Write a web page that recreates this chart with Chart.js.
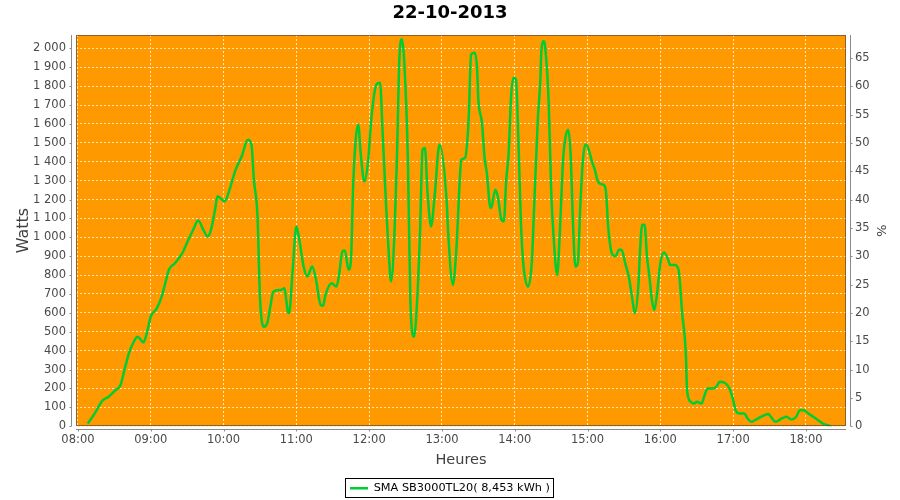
<!DOCTYPE html>
<html><head><meta charset="utf-8">
<style>html,body{margin:0;padding:0;background:#fff}#wrap{width:900px;height:500px}</style>
<script src="https://cdn.jsdelivr.net/npm/chart.js@4/dist/chart.umd.min.js"></script>
</head><body><div id="wrap"><canvas id="c" width="900" height="500"></canvas></div>
<script>
const chartTitle = '22-10-2013';
const seriesName = 'SMA SB3000TL20( 8,453 kWh )';
const xAxisTitle = 'Heures';
const yAxisTitle = 'Watts';
const y2AxisTitle = '%';
const hourTicks = ['08:00','09:00','10:00','11:00','12:00','13:00','14:00','15:00','16:00','17:00','18:00'];
const inverterMaxWatts = 3000;

const times = [
'08:08','08:14','08:20','08:25','08:31','08:35','08:39','08:42','08:46','08:49','08:54','08:57',
'09:00','09:05','09:09','09:12','09:15','09:20','09:26','09:31','09:35','09:39','09:44','09:47','09:50','09:53','09:55',
'10:01','10:04','10:10','10:15','10:20','10:23','10:25','10:28','10:30','10:33','10:36','10:39','10:41','10:47','10:50','10:51','10:53','10:54','10:57',
'11:00','11:02','11:06','11:09','11:13','11:16','11:20','11:22','11:24','11:29','11:33','11:35','11:38','11:40','11:43','11:45','11:47','11:51','11:53','11:56','11:59',
'12:02','12:06','12:09','12:11','12:14','12:16','12:18','12:21','12:23','12:25','12:27','12:29','12:32','12:34','12:37','12:40','12:42','12:44','12:46','12:48','12:51','12:54','12:58',
'13:04','13:05','13:09','13:12','13:15','13:16','13:19','13:22','13:24','13:27','13:29','13:30','13:33','13:35','13:37','13:40','13:41','13:44','13:46','13:49','13:51','13:53','13:55','13:57','13:59',
'14:01','14:03','14:05','14:07','14:11','14:14','14:16','14:19','14:21','14:22','14:24','14:25','14:28','14:30','14:32','14:35','14:37','14:40','14:42','14:44','14:46','14:48','14:50','14:52','14:54','14:56','14:58',
'15:00','15:04','15:06','15:08','15:10','15:13','15:15','15:17','15:20','15:23','15:26','15:28','15:31','15:34','15:37','15:39','15:42','15:43','15:45','15:47','15:49','15:51','15:53','15:55','15:57',
'16:00','16:03','16:06','16:08','16:12','16:15','16:18','16:21','16:22','16:25','16:28','16:30','16:34','16:36','16:39','16:43','16:46','16:49','16:53','16:57',
'17:00','17:02','17:05','17:09','17:12','17:15','17:18','17:23','17:29','17:31','17:35','17:40','17:44','17:48','17:52','17:55','17:58',
'18:02','18:06','18:10','18:14','18:18','18:21'
];
const watts = [
14,69,134,155,191,217,315,385,447,474,444,500,
580,624,686,757,828,863,916,987,1040,1089,1031,1004,1049,1146,1217,
1190,1234,1358,1429,1517,1491,1305,1110,686,527,545,651,712,721,730,704,606,598,828,
1057,1004,845,792,845,783,642,637,695,757,739,792,925,930,828,881,1305,1597,1447,1296,1394,
1641,1809,1818,1570,1163,934,766,1040,1447,1959,2048,1924,1394,651,474,721,1040,1464,1473,1252,1057,1220,1491,
1181,1040,748,951,1341,1411,1420,1623,1968,1977,1889,1729,1606,1429,1341,1155,1163,1252,1217,1093,1084,1305,1447,1747,1845,
1836,1517,1093,863,739,863,1163,1623,1818,1995,2039,2012,1712,1252,1004,801,1004,1429,1535,1570,1447,1075,845,863,1163,1394,1491,
1482,1394,1358,1305,1284,1279,1252,1057,916,900,934,934,863,792,668,598,757,898,1066,1066,898,792,668,615,686,
863,919,890,854,854,828,598,385,191,129,120,129,120,155,200,200,208,235,230,200,
138,85,67,67,41,23,32,50,64,50,23,41,50,35,50,85,85,
67,50,32,14,5,0
];

const toMin = s => parseInt(s.slice(0,2),10)*60 + parseInt(s.slice(3),10);
const fmtHM = v => { const h = Math.floor(v/60), m = Math.round(v%60); return String(h).padStart(2,'0')+':'+String(m).padStart(2,'0'); };
const fmtThousands = v => String(v).replace(/\B(?=(\d{3})+(?!\d))/g, ' ');

const X_MIN = 478.4, X_MAX = 1113;
const Y_MAX = 2071;

Chart.defaults.font.family = "'DejaVu Sans', sans-serif";
Chart.defaults.color = '#404040';

const framePlugin = {
  id: 'frame',
  beforeDraw(chart) {
    const {ctx, chartArea: a} = chart;
    ctx.save();
    ctx.fillStyle = '#ffffff';
    ctx.fillRect(0, 0, chart.width, chart.height);
    ctx.fillStyle = '#ff9900';
    ctx.fillRect(a.left, a.top, a.right - a.left, a.bottom - a.top);
    ctx.restore();
  },
  afterDraw(chart) {
    const {ctx, chartArea: a, scales} = chart;
    ctx.save();
    ctx.lineWidth = 1;
    ctx.strokeStyle = 'rgba(120,80,40,0.8)';
    ctx.strokeRect(Math.round(a.left) + 0.5, Math.round(a.top) + 0.5, Math.round(a.right - a.left) - 1, Math.round(a.bottom - a.top) - 1);
    ctx.strokeStyle = '#8a8a8a';
    ctx.beginPath();
    const lx = Math.round(a.left) - 4.5;
    ctx.moveTo(lx, a.top); ctx.lineTo(lx, a.bottom);
    scales.y.ticks.forEach(t => { const p = Math.round(scales.y.getPixelForValue(t.value)) + 0.5; ctx.moveTo(lx, p); ctx.lineTo(lx - 2, p); });
    const rx = Math.round(a.right) + 4.5;
    ctx.moveTo(rx, a.top); ctx.lineTo(rx, a.bottom);
    scales.y2.ticks.forEach(t => { const p = Math.round(scales.y2.getPixelForValue(t.value)) + 0.5; ctx.moveTo(rx, p); ctx.lineTo(rx + 2, p); });
    const by = Math.round(a.bottom) + 3.5;
    ctx.moveTo(a.left, by); ctx.lineTo(a.right, by);
    scales.x.ticks.forEach(t => { const p = Math.round(scales.x.getPixelForValue(t.value)) + 0.5; ctx.moveTo(p, by); ctx.lineTo(p, by + 2); });
    ctx.stroke();
    const lg = chart.legend;
    if (lg && lg.legendHitBoxes && lg.legendHitBoxes.length) {
      const hb = lg.legendHitBoxes[0];
      const cy = hb.top + hb.height / 2;
      ctx.strokeStyle = '#000000';
      ctx.strokeRect(Math.round(hb.left) - 4.5, Math.round(cy) - 9.5, Math.round(hb.width) + 8, 19);
    }
    ctx.restore();
  }
};

const gridCommon = { color: 'rgba(255,255,255,0.75)', lineWidth: 1, tickColor: 'rgba(0,0,0,0)', tickLength: 4 };

new Chart(document.getElementById('c'), {
  type: 'line',
  data: {
    datasets: [{
      label: seriesName,
      data: times.map((t, i) => ({x: toMin(t), y: watts[i]})),
      borderColor: '#00cc33',
      backgroundColor: '#00cc33',
      borderWidth: 2.5,
      pointRadius: 0,
      cubicInterpolationMode: 'monotone',
      fill: false,
      xAxisID: 'x',
      yAxisID: 'y'
    }]
  },
  options: {
    responsive: false,
    animation: false,
    devicePixelRatio: 1,
    layout: { padding: { left: 0, right: 0, top: 0, bottom: -4 } },
    plugins: {
      title: {
        display: true, text: chartTitle, color: '#000000',
        font: { size: 18, weight: 'bold' },
        padding: { top: 3, bottom: 10.4 }
      },
      legend: {
        display: true, position: 'bottom',
        labels: {
          color: '#000000', font: { size: 11.3 }, boxWidth: 18, boxHeight: 2.5, padding: 6,
          generateLabels(chart) {
            return chart.data.datasets.map((d, i) => ({
              text: d.label, fillStyle: d.borderColor, strokeStyle: d.borderColor,
              lineWidth: 0, hidden: false, datasetIndex: i, fontColor: '#000000'
            }));
          }
        }
      },
      tooltip: { enabled: false }
    },
    scales: {
      x: {
        type: 'linear', position: 'bottom', min: X_MIN, max: X_MAX,
        afterBuildTicks(scale) { scale.ticks = hourTicks.map(t => ({value: toMin(t)})); },
        afterFit(scale) { const lh = scale.chart.legend ? scale.chart.legend.height : 0; scale.height = 504 - 426.2 - lh; },
        ticks: { autoSkip: false, maxRotation: 0, minRotation: 0, padding: 3, font: { size: 11.5 }, color: '#4a4a4a', callback: v => fmtHM(v) },
        grid: gridCommon,
        border: { display: false, dash: [2, 2] },
        title: { display: true, text: xAxisTitle, color: '#404040', font: { size: 14.5 }, padding: { top: 0, bottom: 8 } }
      },
      y: {
        type: 'linear', position: 'left', min: 0, max: Y_MAX,
        afterFit(scale) { scale.width = 76; },
        ticks: { stepSize: 100, includeBounds: false, padding: 6, font: { size: 11.5 }, color: '#4a4a4a', callback: v => fmtThousands(v) },
        grid: gridCommon,
        border: { display: false, dash: [2, 2] },
        title: { display: true, text: yAxisTitle, color: '#404040', font: { size: 16 }, padding: { top: 14, bottom: 0 } }
      },
      y2: {
        type: 'linear', position: 'right', min: 0, max: Y_MAX * 100 / inverterMaxWatts,
        afterFit(scale) { scale.width = 54; },
        ticks: { stepSize: 5, includeBounds: false, padding: 5, font: { size: 11.5 }, color: '#4a4a4a' },
        grid: { drawOnChartArea: false, tickColor: 'rgba(0,0,0,0)', tickLength: 4 },
        border: { display: false },
        title: { display: true, text: y2AxisTitle, color: '#404040', font: { size: 13 }, padding: { top: 12, bottom: 0 } }
      }
    }
  },
  plugins: [framePlugin]
});
</script>
</body></html>
